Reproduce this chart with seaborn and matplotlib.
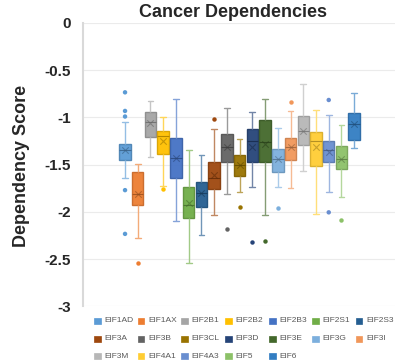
import numpy as np
import pandas as pd
import matplotlib
matplotlib.use("Agg")
import matplotlib.pyplot as plt
import matplotlib.colors as mcolors
from matplotlib.patches import Rectangle
import seaborn as sns

genes = ["EIF1AD", "EIF1AX", "EIF2B1", "EIF2B2", "EIF2B3", "EIF2S1", "EIF2S3",
         "EIF3A", "EIF3B", "EIF3CL", "EIF3D", "EIF3E", "EIF3G", "EIF3I",
         "EIF3M", "EIF4A1", "EIF4A3", "EIF5", "EIF6"]
colors = ["#5B9BD5", "#ED7D31", "#A5A5A5", "#FFC000", "#4472C4", "#70AD47", "#255E91",
          "#9E480E", "#636363", "#997300", "#264478", "#43682B", "#7CAFDD", "#F1975A",
          "#B7B7B7", "#FFCD33", "#698ED0", "#8CC168", "#327DC2"]

whisker_high = [-1.044, -1.489, -0.823, -1.000, -0.809, -1.349, -1.395, -1.128, -0.896, -1.226,
                -0.939, -0.802, -1.114, -0.932, -0.647, -0.918, -0.970, -1.082, -0.739]
q3 = [-1.279, -1.580, -0.939, -1.142, -1.223, -1.739, -1.682, -1.475, -1.174, -1.398,
      -1.118, -1.033, -1.335, -1.216, -0.988, -1.153, -1.247, -1.307, -0.949]
median = [-1.340, -1.810, -1.054, -1.195, -1.430, -1.928, -1.800, -1.640, -1.314, -1.504,
          -1.254, -1.258, -1.440, -1.314, -1.139, -1.250, -1.342, -1.440, -1.072]
q1 = [-1.447, -1.928, -1.209, -1.384, -1.644, -2.068, -1.946, -1.763, -1.475, -1.616,
      -1.475, -1.475, -1.574, -1.447, -1.289, -1.511, -1.468, -1.546, -1.237]
whisker_low = [-1.644, -2.272, -1.423, -1.728, -2.100, -2.542, -2.244, -2.033, -1.816, -1.791,
               -1.735, -2.033, -1.739, -1.746, -1.567, -2.019, -1.788, -1.844, -1.325]
mean = [-1.342, -1.812, -1.061, -1.254, -1.430, -1.910, -1.798, -1.612, -1.314, -1.504,
        -1.314, -1.279, -1.440, -1.314, -1.139, -1.314, -1.370, -1.440, -1.072]

outlier_gene = ["EIF1AD", "EIF1AD", "EIF1AD", "EIF1AD", "EIF1AD", "EIF1AX", "EIF2B2",
                "EIF3A", "EIF3B", "EIF3CL", "EIF3D", "EIF3E", "EIF3G", "EIF3I",
                "EIF4A3", "EIF4A3", "EIF5"]
outlier_value = [-0.735, -0.932, -0.991, -1.770, -2.233, -2.539, -1.756,
                 -1.016, -2.177, -1.946, -2.318, -2.310, -1.960, -0.833,
                 -0.816, -2.005, -2.082]

yticks = [0, -0.5, -1, -1.5, -2, -2.5, -3]
ytick_labels = ["0", "-0.5", "-1", "-1.5", "-2", "-2.5", "-3"]


def darker(c, f=0.8):
    r, g, b = mcolors.to_rgb(c)
    return (r * f, g * f, b * f)


def lighter(c, f=0.45):
    r, g, b = mcolors.to_rgb(c)
    return (r + (1 - r) * f, g + (1 - g) * f, b + (1 - b) * f)


sns.set_theme(style="white")
plt.rcParams["font.family"] = ["Liberation Sans", "DejaVu Sans"]

W, H = 403, 363
fig = plt.figure(figsize=(W / 100, H / 100), dpi=100)
ax = fig.add_axes([0.206, 0.156, 0.774, 0.781])

for i, g in enumerate(genes):
    vals = [whisker_low[i], q1[i], median[i], q3[i], whisker_high[i]]
    df = pd.DataFrame({"gene": [g] * 5, "score": vals})
    c = colors[i]
    lc = darker(c, 0.85)
    sns.boxplot(data=df, x="gene", y="score", order=genes, color=c, saturation=1,
                whis=(0, 100), width=0.9, linewidth=1.0, linecolor=lc,
                showfliers=False, ax=ax,
                whiskerprops=dict(color=lighter(c, 0.35), linewidth=1.0),
                capprops=dict(color=lighter(c, 0.35), linewidth=1.0),
                medianprops=dict(color=darker(c, 0.7), linewidth=0.8),
                boxprops=dict(alpha=0.95))

out_df = pd.DataFrame({"gene": outlier_gene, "score": outlier_value})
sns.stripplot(data=out_df, x="gene", y="score", order=genes, hue="gene",
              hue_order=genes, palette=colors, jitter=False, size=3.2,
              linewidth=0, legend=False, ax=ax)

pos = np.arange(len(genes))
for i in range(len(genes)):
    ax.scatter([pos[i]], [mean[i]], marker="x", s=22, linewidths=0.8,
               color=darker(colors[i], 0.6), alpha=0.55, zorder=5)

ax.set_xlim(-3.3, 21.2)
ax.set_ylim(-3, 0)
ax.set_yticks(yticks)
ax.set_yticklabels(ytick_labels, fontsize=11, fontweight="bold")
ax.set_xticks([])
ax.set_xlabel("")
ax.set_ylabel("")
ax.yaxis.grid(True, color="#EBEBEB", linewidth=0.8)
ax.set_axisbelow(True)
for s in ["top", "right", "bottom"]:
    ax.spines[s].set_visible(False)
ax.spines["left"].set_color("#D9D9D9")
ax.spines["left"].set_linewidth(1.5)
ax.tick_params(axis="y", length=0, pad=9)

fig.text(22 / W, 1 - 166 / H, "Dependency Score", rotation=90, ha="center", va="center",
         fontsize=13, fontweight="bold")
fig.text(0.578, 0.965, "Cancer Dependencies", ha="center", va="center",
         fontsize=13, fontweight="bold")

# legend (row-major, Excel style)
col_x = [94.3, 137.7, 181.0, 225.3, 269.0, 312.0, 355.7]
row_y = [320.8, 339.0, 356.0]
sq = 6.5
for k, (g, c) in enumerate(zip(genes, colors)):
    r, cidx = divmod(k, 7)
    x0 = col_x[cidx]
    yc = row_y[r]
    fig.patches.append(Rectangle((x0 / W, 1 - (yc + sq / 2) / H), sq / W, sq / H,
                                 transform=fig.transFigure, facecolor=c,
                                 edgecolor=c, linewidth=0.5))
    fig.text((x0 + 10.5) / W, 1 - yc / H, g, ha="left", va="center",
             fontsize=6, color="#595959")

fig.savefig("out.png", dpi=100)
